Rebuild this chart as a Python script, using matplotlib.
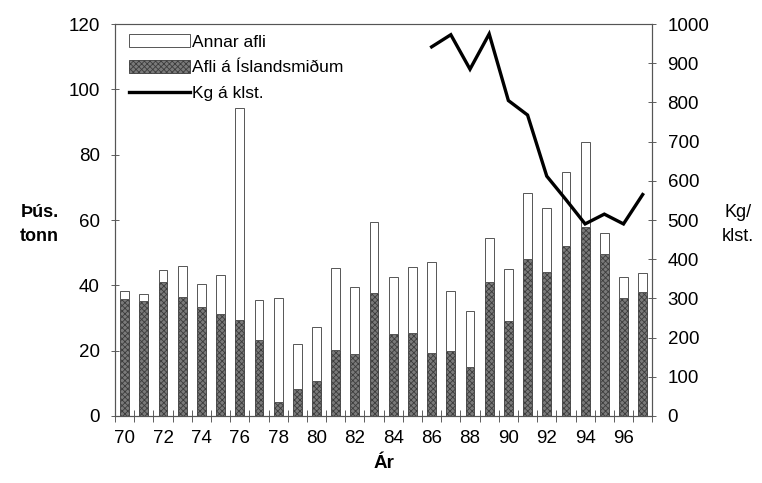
import matplotlib.pyplot as plt
import numpy as np

plt.rcParams['font.family'] = ['Liberation Sans', 'DejaVu Sans']
plt.rcParams['hatch.linewidth'] = 0.6

# Afli (þús. tonn) og afli á klst. (kg)
years = list(range(70, 98))
afli_isl = [35.9, 35.2, 41.1, 36.3, 33.4, 31.3, 29.4, 23.2, 4.3, 8.2,
            10.7, 20.2, 19.1, 37.7, 25.1, 25.5, 19.4, 19.9, 14.9, 40.9,
            29.1, 48.2, 44.0, 52.0, 57.9, 49.5, 36.0, 37.9]
afli_total = [38.2, 37.2, 44.6, 45.9, 40.5, 43.0, 94.3, 35.5, 36.1, 21.9,
              27.3, 45.4, 39.5, 59.3, 42.6, 45.6, 47.0, 38.2, 32.1, 54.6,
              45.0, 68.4, 63.6, 74.7, 84.0, 56.0, 42.6, 43.9]
annar_afli = [t - i for t, i in zip(afli_total, afli_isl)]
kg_years = list(range(86, 98))
kg_klst = [942, 973, 885, 975, 805, 768, 612, 552, 490, 515, 490, 565]

fig = plt.figure(figsize=(7.62, 4.83), dpi=100)
ax = fig.add_axes([0.151, 0.139, 0.705, 0.811])
ax2 = ax.twinx()

w = 0.46
ax.bar(years, afli_isl, width=w, facecolor='#7a7a7a', edgecolor='#3c3c3c',
       hatch='xxxxxx', linewidth=0.6, label='Afli á Íslandsmiðum', zorder=2)
ax.bar(years, annar_afli, bottom=afli_isl, width=w, facecolor='white',
       edgecolor='#555555', linewidth=0.7, label='Annar afli', zorder=2)
ax2.plot(kg_years, kg_klst, color='black', lw=2.4, label='Kg á klst.',
         solid_joinstyle='miter')

ax.set_xlim(69.5, 97.5)
ax.set_ylim(0, 120)
ax2.set_ylim(0, 1000)
ax.set_yticks(np.arange(0, 121, 20))
ax2.set_yticks(np.arange(0, 1001, 100))
ax.set_xticks(range(70, 97, 2))
ax.set_xticks(np.arange(69.5, 98, 1), minor=True)
ax.tick_params(axis='x', which='major', length=0, pad=10, labelsize=13.5)
ax.tick_params(axis='x', which='minor', direction='inout', length=8,
               width=0.6, color='#444444')
ax.tick_params(axis='y', direction='inout', length=6, width=0.6,
               color='#444444', labelsize=13.5, pad=8)
ax2.tick_params(axis='y', direction='inout', length=6, width=0.6,
                color='#444444', labelsize=13.5, pad=8)

for a in (ax, ax2):
    for s in a.spines.values():
        s.set_linewidth(0.8)
        s.set_color('#555555')
ax.spines['top'].set_color('#888888')

fig.text(0.052, 0.535, 'Þús.\ntonn', fontsize=13, fontweight='bold',
         ha='center', va='center', linespacing=1.5)
fig.text(0.968, 0.535, 'Kg/\nklst.', fontsize=13, ha='center',
         va='center', linespacing=1.5)
ax.set_xlabel('Ár', fontsize=13.5, fontweight='bold', labelpad=6)

h1, l1 = ax.get_legend_handles_labels()
h2, l2 = ax2.get_legend_handles_labels()
ax.legend([h1[1], h1[0], h2[0]], [l1[1], l1[0], l2[0]], loc='upper left',
          bbox_to_anchor=(0.0, 1.01), frameon=False, fontsize=12.5,
          handlelength=3.5, handleheight=0.75, handletextpad=0.15,
          labelspacing=0.6, borderaxespad=0.5, borderpad=0.3)

fig.savefig('out.png', dpi=100)
